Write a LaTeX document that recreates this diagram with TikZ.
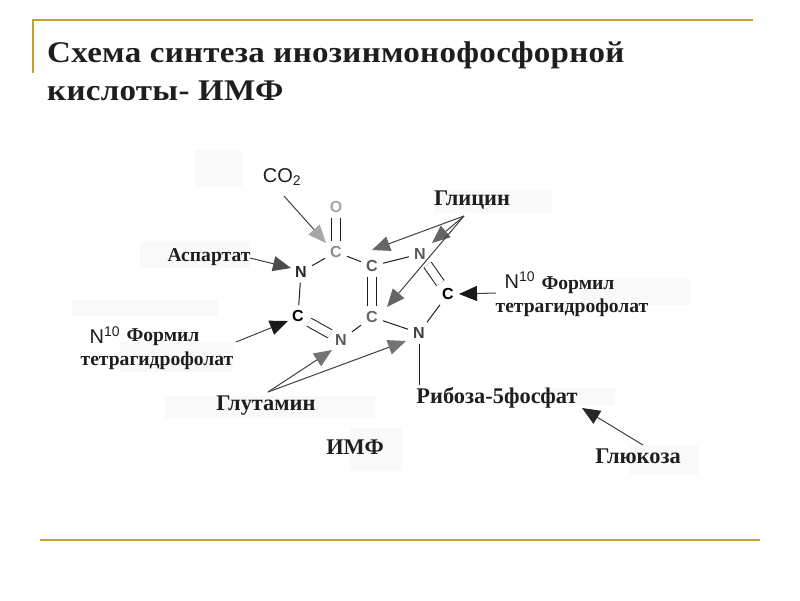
\documentclass[tikz,border=0pt]{standalone}
\usepackage{fontspec}
\setmainfont{Liberation Serif}
\setsansfont{Liberation Sans}
\newfontfamily\headfont[FakeStretch=1.1,LetterSpace=1]{Liberation Serif}
\usetikzlibrary{arrows.meta}
\definecolor{gold}{HTML}{C4A232}
\definecolor{ink}{HTML}{1E1E1E}
\tikzset{
  frameline/.style={gold,line width=1.7pt},
  patch/.style={fill=black!2.5,draw=none},
  heading/.style={anchor=base west,inner sep=0pt,font=\fontsize{30}{30}\headfont\bfseries,text=ink},
  label/.style={inner sep=0pt,font=\fontsize{22.4}{23}\selectfont\bfseries,text=ink},
  smalllabel/.style={label,font=\fontsize{19.6}{20}\selectfont\bfseries},
  sanslabel/.style={inner sep=0pt,font=\fontsize{20}{20}\selectfont\sffamily,text=ink},
  atom/.style={inner sep=5pt,font=\fontsize{16}{16}\selectfont\sffamily\bfseries},
  bond/.style={line width=1pt,draw=#1},
  bond/.default=ink,
  dbl/.style={line width=1pt,double=white,double distance=8pt,draw=#1},
  dbl/.default=ink,
  feed/.style={line width=1pt,draw=black!75,-{Triangle[length=18pt,width=15pt,fill=#1,color=#1]}},
  feed/.default=black!70
}
\begin{document}
\begin{tikzpicture}[x=1pt,y=-1pt]
\useasboundingbox (0,0) rectangle (800,600);
% frame
\draw[frameline] (33,73) -- (33,20) -- (753,20);
\draw[frameline] (40,540) -- (760,540);
% faint patches of the scanned artwork
\foreach \a/\b/\c/\d in {195/150/242/187,140/242/250/268,72/300/218/316,120/342/233/372,165/396/375/418,435/190/552/213,580/278/690/305,545/388/615/405,630/445/698/475,350/428/402/470}
  \fill[patch] (\a,\b) rectangle (\c,\d);
% title
\node[heading] (t1) at (47,62) {Схема синтеза инозинмонофосфорной};
\node[heading] (t2) at (47,100) {кислоты- ИМФ};
% atoms
\node[atom,text=black!35] (O) at (336,207) {O};
\node[atom,text=black!45] (C1) at (336,252) {C};
\node[atom,text=black!65] (C2) at (372,266) {C};
\node[atom,text=black!65] (N3) at (420,254) {N};
\node[atom,text=black] (C4) at (448,294) {C};
\node[atom,text=black!75] (N5) at (419,333) {N};
\node[atom,text=black!60] (C6) at (372,317) {C};
\node[atom,text=black!65] (N7) at (341,340) {N};
\node[atom,text=black] (C8) at (298,316) {C};
\node[atom,text=black!85] (N9) at (301,272) {N};
% bonds
\draw[dbl] (O) -- (C1);
\draw[bond] (C1) -- (C2);
\draw[bond] (C2) -- (N3);
\draw[dbl] (N3) -- (C4);
\draw[bond] (C4) -- (N5);
\draw[bond] (N5) -- (C6);
\draw[dbl] (C6) -- (C2);
\draw[bond] (C6) -- (N7);
\draw[dbl] (N7) -- (C8);
\draw[bond] (C8) -- (N9);
\draw[bond] (N9) -- (C1);
% labels
\node[sanslabel] (co2) at (282,177) {CO\textsubscript{2}};
\node[label] (gly) at (472,200) {Глицин};
\node[smalllabel] (asp) at (209,257) {Аспартат};
\node[sanslabel] (nl) at (105,335) {N\textsuperscript{10}};
\node[smalllabel] (fl) at (163,337) {Формил};
\node[smalllabel] (tl) at (157,361) {тетрагидрофолат};
\node[label] (glu) at (266,406) {Глутамин};
\node[label] (imp) at (355,447) {ИМФ};
\node[label] (rib) at (497,398) {Рибоза-5фосфат};
\node[label] (glc) at (638,456) {Глюкоза};
\node[sanslabel] (nr) at (520,280) {N\textsuperscript{10}};
\node[smalllabel] (fr) at (578,285) {Формил};
\node[smalllabel] (tr) at (572,308) {тетрагидрофолат};
% connector tails
\coordinate (co2t) at (284,196);
\coordinate (glyt) at (464,216);
\coordinate (aspt) at (250,258);
\coordinate (nlt) at (236,342);
\coordinate (glut) at (268,392);
\coordinate (nrt) at (496,293);
\coordinate (glct) at (643,445);
\coordinate (ribh) at (582,408);
\coordinate (ribt) at (419,385);
\coordinate (g1) at (372,250);
\coordinate (g2) at (432,243);
\coordinate (g3) at (387,307);
\coordinate (u1) at (332,350);
\coordinate (u2) at (406,341);
\coordinate (a1) at (326,243);
\coordinate (a2) at (291,268);
\coordinate (a3) at (288,321);
\coordinate (a4) at (459,294);
% connectors
\draw[feed=black!35] (co2t) -- (a1);
\draw[feed=black!60] (glyt) -- (g1);
\draw[feed=black!60] (glyt) -- (g2);
\draw[feed=black!60] (glyt) -- (g3);
\draw[feed=black!70] (aspt) -- (a2);
\draw[feed=black!90] (nlt) -- (a3);
\draw[feed=black!55] (glut) -- (u1);
\draw[feed=black!55] (glut) -- (u2);
\draw[feed=black!90] (nrt) -- (a4);
\draw[feed=black!85] (glct) -- (ribh);
\draw[bond] (N5) -- (ribt);
\end{tikzpicture}
\end{document}
